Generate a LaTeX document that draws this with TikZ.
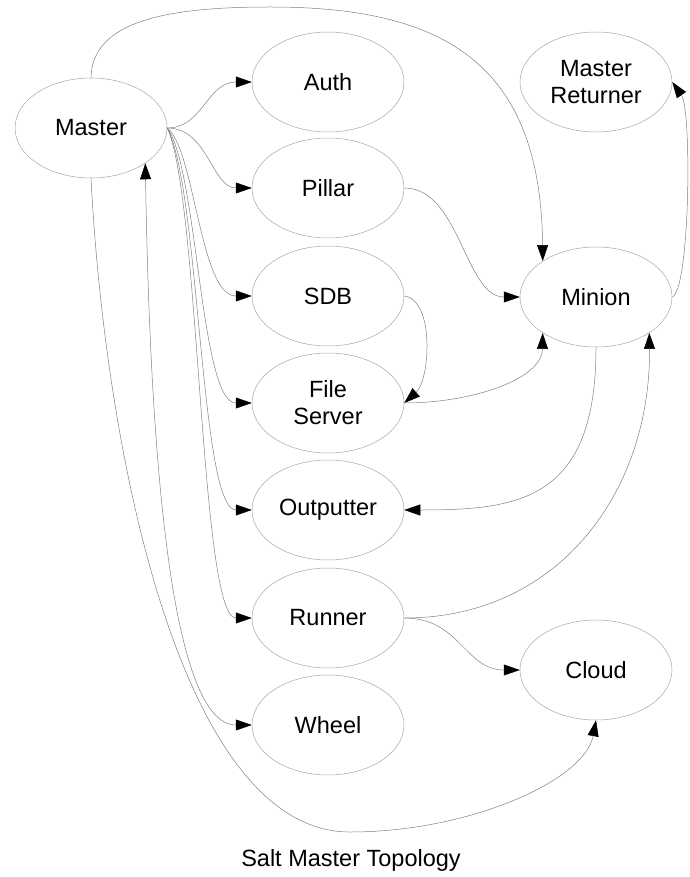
\documentclass[tikz,border=0pt]{standalone}
\usepackage{fontspec}
\setmainfont{Liberation Sans}
\usetikzlibrary{shapes.geometric}
\usetikzlibrary{arrows.meta}

\tikzset{
  blob/.style={ellipse, draw=black!35, line width=0.5pt, minimum width=152pt, minimum height=100pt, inner sep=0pt, align=center, font=\fontsize{23.5}{27}\selectfont},
  link/.style={draw=black!50, line width=0.5pt},
  >={Triangle[length=16pt,width=11pt,color=black]}
}

\begin{document}
\begin{tikzpicture}[x=1pt,y=-1pt]

\useasboundingbox (0,0) rectangle (689,877);

\node[blob] (master) at (91,128) {Master};
\node[blob] (auth) at (328,82) {Auth};
\node[blob] (pillar) at (328,188) {Pillar};
\node[blob] (sdb) at (328,296) {SDB};
\node[blob] (fs) at (328,403) {File\\Server};
\node[blob] (outp) at (328,510) {Outputter};
\node[blob] (runner) at (328,618) {Runner};
\node[blob] (wheel) at (328,725) {Wheel};
\node[blob] (mret) at (596,82) {Master\\Returner};
\node[blob] (minion) at (596,297) {Minion};
\node[blob] (cloud) at (596,670) {Cloud};
\node[font=\fontsize{23.5}{27}\selectfont] (title) at (351,860) {Salt Master Topology};

% master fan
\draw[link,->] (master.east) .. controls (203,128) and (207,82) .. (auth.west);
\draw[link,->] (master.east) .. controls (208,128) and (212,188) .. (pillar.west);
\draw[link,->] (master.east) .. controls (195,150) and (200,296) .. (sdb.west);
\draw[link,->] (master.east) .. controls (198,170) and (200,403) .. (fs.west);
\draw[link,->] (master.east) .. controls (200,190) and (200,510) .. (outp.west);
\draw[link,->] (master.east) .. controls (200,200) and (200,618) .. (runner.west);
\draw[link,<->] (master.327) .. controls (150,450) and (170,725) .. (wheel.west);
\draw[link,->] (master.south) .. controls (105,450) and (180,832) .. (350,832) .. controls (470,832) and (585,780) .. (cloud.south);
\draw[link,->] (master.north) .. controls (92,20) and (170,7) .. (270,7) .. controls (440,7) and (541,60) .. (minion.146);

% minion side
\draw[link,->] (pillar.east) .. controls (460,188) and (465,297) .. (minion.west);
\draw[link,->] (sdb.east) .. controls (435,300) and (430,380) .. (fs.east);
\draw[link,->] (fs.east) .. controls (470,403) and (542,380) .. (minion.214);
\draw[link,->] (minion.south) .. controls (596,500) and (520,510) .. (outp.east);
\draw[link,->] (runner.east) .. controls (560,618) and (651,490) .. (minion.326);
\draw[link,->] (runner.east) .. controls (460,618) and (465,670) .. (cloud.west);
\draw[link,->] (minion.east) .. controls (690,290) and (692,110) .. (mret.east);

\end{tikzpicture}
\end{document}
